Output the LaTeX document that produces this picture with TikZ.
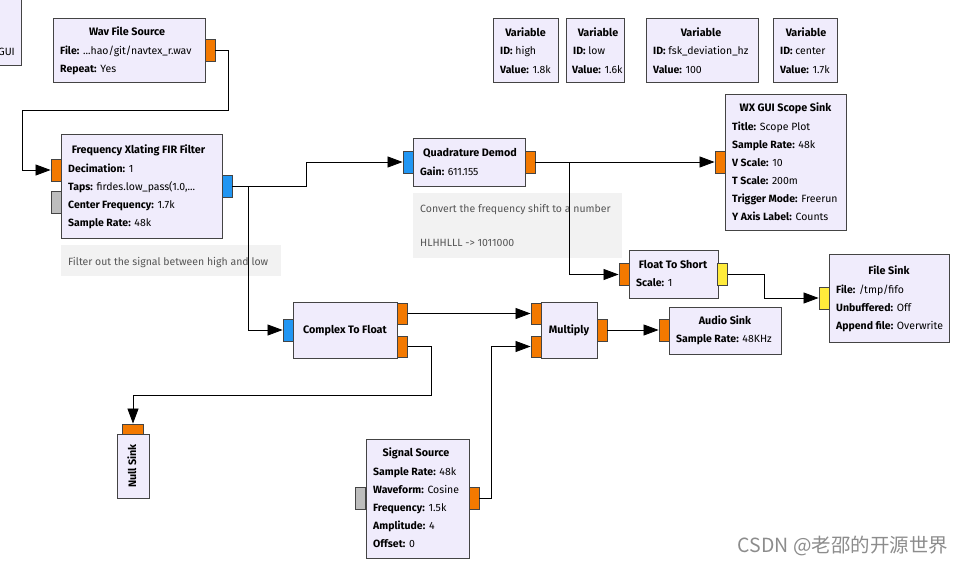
\documentclass[tikz,border=0pt]{standalone}
\usepackage{fontspec}
\setmainfont{Fira Sans}
\newfontfamily\cjk{Noto Sans CJK SC}
\usetikzlibrary{arrows.meta}

\definecolor{blkfill}{HTML}{F0ECFC}
\definecolor{blkline}{HTML}{444444}
\definecolor{portorange}{HTML}{F37900}
\definecolor{portblue}{HTML}{2196F3}
\definecolor{portyellow}{HTML}{FFEB3B}
\definecolor{portgray}{HTML}{BDBDBD}
\definecolor{notefill}{HTML}{F2F2F2}
\definecolor{notetext}{HTML}{555555}

\tikzset{
  blk/.style={draw=blkline, fill=blkfill, line width=0.9pt, inner sep=0pt, anchor=north west},
  port/.style={draw=blkline, line width=0.9pt, inner sep=0pt, minimum width=10pt, minimum height=22pt},
  ttl/.style={font=\fontsize{10.8}{12}\selectfont\bfseries, inner sep=0pt, text height=8pt, text depth=2pt},
  prop/.style={font=\fontsize{10.5}{12}\selectfont, inner sep=0pt, anchor=west, text height=8pt, text depth=2pt},
  note/.style={fill=notefill, inner sep=0pt, anchor=north west},
  notetxt/.style={prop, text=notetext},
  wire/.style={draw=black, line width=0.8pt, -{Triangle[length=15pt,width=11pt]}},
}

\begin{document}
\begin{tikzpicture}[x=1pt, y=-1pt]
\useasboundingbox (0,0) rectangle (963,565);

% options block, cut at the edge
\node[blk, minimum width=30pt, minimum height=75pt] (opts) at (-9,-10) {};
\node[prop, anchor=east] (optsgui) at (15,52) {GUI};

% wav source
\node[blk, minimum width=152pt, minimum height=64pt] (wav) at (53,18) {};
\node[ttl] (wavt) at (127,32) {Wav File Source};
\node[prop] (wavp1) at (60,51) {\textbf{File:} ...hao/git/navtex\_r.wav};
\node[prop] (wavp2) at (60,69) {\textbf{Repeat:} Yes};
\node[port, fill=portorange] (wavout) at (210,50) {};

% variables
\node[blk, minimum width=65pt, minimum height=64pt] (vhigh) at (493,18) {};
\node[ttl] (vhight) at (525.5,33) {Variable};
\node[prop] (vhighp1) at (500,51) {\textbf{ID:} high};
\node[prop] (vhighp2) at (500,70) {\textbf{Value:} 1.8k};
\node[blk, minimum width=58pt, minimum height=64pt] (vlow) at (566,18) {};
\node[ttl] (vlowt) at (598,33) {Variable};
\node[prop] (vlowp1) at (573,51) {\textbf{ID:} low};
\node[prop] (vlowp2) at (572,70) {\textbf{Value:} 1.6k};
\node[blk, minimum width=112pt, minimum height=64pt] (vdev) at (646,18) {};
\node[ttl] (vdevt) at (701,33) {Variable};
\node[prop] (vdevp1) at (653,51) {\textbf{ID:} fsk\_deviation\_hz};
\node[prop] (vdevp2) at (653,70) {\textbf{Value:} 100};
\node[blk, minimum width=64pt, minimum height=64pt] (vctr) at (773,18) {};
\node[ttl] (vctrt) at (806,33) {Variable};
\node[prop] (vctrp1) at (780,51) {\textbf{ID:} center};
\node[prop] (vctrp2) at (780,70) {\textbf{Value:} 1.7k};

% xlating filter
\node[blk, minimum width=161pt, minimum height=104pt] (fx) at (61,134) {};
\node[ttl] (fxt) at (138.5,150) {Frequency Xlating FIR Filter};
\node[prop] (fxp1) at (68,169) {\textbf{Decimation:} 1};
\node[prop] (fxp2) at (68,187) {\textbf{Taps:} firdes.low\_pass(1.0,...};
\node[prop] (fxp3) at (68,205) {\textbf{Center Frequency:} 1.7k};
\node[prop] (fxp4) at (68,223) {\textbf{Sample Rate:} 48k};
\node[port, fill=portorange] (fxin) at (56,170) {};
\node[port, fill=portgray] (fxgray) at (56,202) {};
\node[port, fill=portblue] (fxout) at (227,186) {};
\node[note, minimum width=220pt, minimum height=31pt] (fxnote) at (61,245) {};
\node[notetxt] (fxnotet) at (68,262) {Filter out the signal between high and low};

% quadrature demod
\node[blk, minimum width=112pt, minimum height=48pt] (qd) at (413,138) {};
\node[ttl] (qdt) at (470,153) {Quadrature Demod};
\node[prop] (qdp1) at (420,172) {\textbf{Gain:} 611.155};
\node[port, fill=portblue] (qin) at (408,162) {};
\node[port, fill=portorange] (qout) at (530,162) {};
\node[note, minimum width=209pt, minimum height=65pt] (qnote) at (413,193) {};
\node[notetxt] (qnotet1) at (420,209) {Convert the frequency shift to a number};
\node[notetxt] (qnotet2) at (420,243) {HLHHLLL -> 1011000};

% scope sink
\node[blk, minimum width=121pt, minimum height=136pt] (scope) at (725,94) {};
\node[ttl] (scopet) at (785.5,108) {WX GUI Scope Sink};
\node[prop] (scopep1) at (732,127) {\textbf{Title:} Scope Plot};
\node[prop] (scopep2) at (732,145) {\textbf{Sample Rate:} 48k};
\node[prop] (scopep3) at (732,163) {\textbf{V Scale:} 10};
\node[prop] (scopep4) at (732,181) {\textbf{T Scale:} 200m};
\node[prop] (scopep5) at (732,199) {\textbf{Trigger Mode:} Freerun};
\node[prop] (scopep6) at (732,217) {\textbf{Y Axis Label:} Counts};
\node[port, fill=portorange] (scin) at (720,162) {};

% float to short
\node[blk, minimum width=89pt, minimum height=48pt] (fts) at (629,250) {};
\node[ttl] (ftst) at (673,265) {Float To Short};
\node[prop] (ftsp1) at (636,283) {\textbf{Scale:} 1};
\node[port, fill=portorange] (ftsin) at (624,274.5) {};
\node[port, fill=portyellow] (ftsout) at (722.5,274.5) {};

% file sink
\node[blk, minimum width=120pt, minimum height=88pt] (fsink) at (829,254) {};
\node[ttl] (fsinkt) at (889,271) {File Sink};
\node[prop] (fsinkp1) at (836,290) {\textbf{File:} /tmp/fifo};
\node[prop] (fsinkp2) at (836,308) {\textbf{Unbuffered:} Off};
\node[prop] (fsinkp3) at (836,326) {\textbf{Append file:} Overwrite};
\node[port, fill=portyellow] (fsin) at (824,298) {};

% complex to float
\node[blk, minimum width=104pt, minimum height=56pt] (ctf) at (293,302) {};
\node[ttl] (ctft) at (345,330) {Complex To Float};
\node[port, fill=portblue] (cin) at (288,330) {};
\node[port, fill=portorange, minimum height=21pt] (cout1) at (402.5,313.5) {};
\node[port, fill=portorange, minimum height=21pt] (cout2) at (402.5,346.5) {};

% multiply
\node[blk, minimum width=56pt, minimum height=56pt] (mul) at (541,302) {};
\node[ttl] (mult) at (569,330) {Multiply};
\node[port, fill=portorange, minimum height=21pt] (min1) at (536,313.5) {};
\node[port, fill=portorange, minimum height=21pt] (min2) at (536,346.5) {};
\node[port, fill=portorange] (mout) at (602,330) {};

% audio sink
\node[blk, minimum width=112pt, minimum height=47pt] (audio) at (669,307) {};
\node[ttl] (audiot) at (725,321) {Audio Sink};
\node[prop] (audiop1) at (676,339) {\textbf{Sample Rate:} 48KHz};
\node[port, fill=portorange] (ain) at (664,330) {};

% null sink
\node[blk, minimum width=32pt, minimum height=64pt] (nsink) at (117,434) {};
\node[ttl, rotate=90] (nsinkt) at (133,466) {Null Sink};
\node[port, fill=portorange, minimum width=21pt, minimum height=10pt] (nsin) at (133,429) {};

% signal source
\node[blk, minimum width=103pt, minimum height=119pt] (sig) at (366,439) {};
\node[ttl] (sigt) at (416,453) {Signal Source};
\node[prop] (sigp1) at (373,472) {\textbf{Sample Rate:} 48k};
\node[prop] (sigp2) at (373,490) {\textbf{Waveform:} Cosine};
\node[prop] (sigp3) at (373,508) {\textbf{Frequency:} 1.5k};
\node[prop] (sigp4) at (373,526) {\textbf{Amplitude:} 4};
\node[prop] (sigp5) at (373,544) {\textbf{Offset:} 0};
\node[port, fill=portgray] (siggray) at (360.5,498) {};
\node[port, fill=portorange] (sigout) at (474,498) {};

% connections
\coordinate (fxbranch) at (248,186);
\coordinate (qbranch) at (569,162);
\draw[wire] (wavout.east) -- (228,50) -- (228,110) -- (22,110) |- (fxin.west);
\draw[wire] (fxout.east) -- (306,186) |- (qin.west);
\draw[wire] (fxbranch) |- (cin.west);
\draw[wire] (qout.east) -- (scin.west);
\draw[wire] (qbranch) |- (ftsin.west);
\draw[wire] (ftsout.east) -- (764,274.5) |- (fsin.west);
\draw[wire] (cout1.east) -- (min1.west);
\draw[wire] (cout2.east) -- (431,346.5) -- (431,395) -| (nsin.north);
\draw[wire] (sigout.east) -- (491,498) |- (min2.west);
\draw[wire] (mout.east) -- (ain.west);

% watermark
\node[text=black!45, font=\cjk\fontsize{19.5}{21}\selectfont, inner sep=0pt] (wmark) at (843,546) {CSDN @老邵的开源世界};
\end{tikzpicture}
\end{document}
